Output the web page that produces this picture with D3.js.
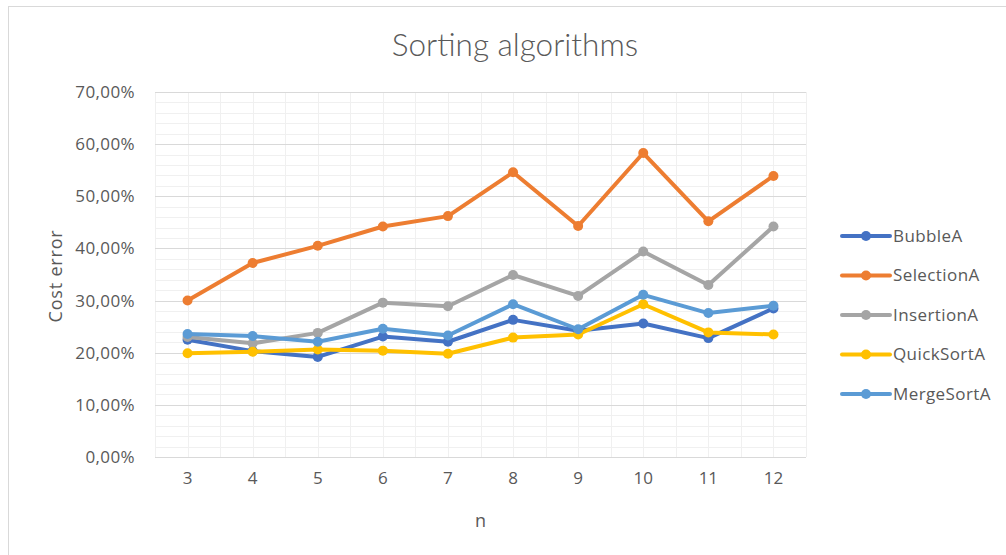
<!DOCTYPE html>
<html>
<head>
<meta charset="utf-8">
<script src="https://cdn.jsdelivr.net/npm/d3@7"></script>
<style>
html,body{margin:0;padding:0;background:#fff;}
svg{display:block;}
text{font-family:"Open Sans",sans-serif;fill:#595959;}
</style>
</head>
<body>
<svg id="chart" width="1006" height="555"></svg>
<script>
const categories = [3, 4, 5, 6, 7, 8, 9, 10, 11, 12];
const yTicks = [0, 10, 20, 30, 40, 50, 60, 70];
const seriesNames = ["BubbleA", "SelectionA", "InsertionA", "QuickSortA", "MergeSortA"];
const bubbleA    = [22.5, 20.3, 19.2, 23.1, 22.1, 26.3, 24.2, 25.6, 22.8, 28.5];
const selectionA = [30.0, 37.2, 40.5, 44.2, 46.2, 54.6, 44.3, 58.3, 45.2, 53.9];
const insertionA = [23.0, 21.8, 23.8, 29.6, 28.9, 34.9, 30.9, 39.4, 33.0, 44.2];
const quickSortA = [19.9, 20.2, 20.6, 20.4, 19.8, 22.9, 23.5, 29.3, 23.9, 23.5];
const mergeSortA = [23.6, 23.2, 22.1, 24.6, 23.3, 29.3, 24.5, 31.1, 27.6, 29.0];
const colors = ["#4472c4", "#ed7d31", "#a5a5a5", "#ffc000", "#5b9bd5"];

const seriesValues = [bubbleA, selectionA, insertionA, quickSortA, mergeSortA];
const series = seriesNames.map((name, i) => ({name, color: colors[i], values: seriesValues[i]}));

const svg = d3.select("#chart");
const plot = {left: 155, right: 806, top: 92, bottom: 457};

// chart border
svg.append("rect").attr("x", 8.5).attr("y", 6.5).attr("width", 1010).attr("height", 560)
  .attr("fill", "#fff").attr("stroke", "#d9d9d9").attr("stroke-width", 1);

const x = d3.scaleBand().domain(categories).range([plot.left, plot.right]).paddingInner(0).paddingOuter(0);
const y = d3.scaleLinear().domain([0, 70]).range([plot.bottom, plot.top]);

// minor horizontal grid
const minor = d3.range(0, 70.001, 2).filter(v => v % 10 !== 0);
svg.append("g").selectAll("line").data(minor).join("line")
  .attr("x1", plot.left).attr("x2", plot.right)
  .attr("y1", d => Math.round(y(d)) + 0.5).attr("y2", d => Math.round(y(d)) + 0.5)
  .attr("stroke", "#f0f0f0").attr("stroke-width", 1);

// vertical grid (band edges and centers)
const vLines = [];
categories.forEach(c => { vLines.push(x(c)); vLines.push(x(c) + x.bandwidth() / 2); });
vLines.push(plot.right);
svg.append("g").selectAll("line").data(vLines).join("line")
  .attr("x1", d => Math.round(d) + 0.5).attr("x2", d => Math.round(d) + 0.5)
  .attr("y1", plot.top).attr("y2", plot.bottom)
  .attr("stroke", "#f0f0f0").attr("stroke-width", 1);

// major horizontal grid
svg.append("g").selectAll("line").data(yTicks).join("line")
  .attr("x1", plot.left).attr("x2", plot.right)
  .attr("y1", d => Math.round(y(d)) + 0.5).attr("y2", d => Math.round(y(d)) + 0.5)
  .attr("stroke", "#d9d9d9").attr("stroke-width", 1);

// y axis labels
const yAxis = d3.axisLeft(y).tickValues(yTicks).tickSize(0).tickPadding(0)
  .tickFormat(d => d.toFixed(2).replace(".", ",") + "%");
const gy = svg.append("g").attr("transform", `translate(${plot.left - 20},0)`).call(yAxis);
gy.select(".domain").remove();
gy.selectAll("text").style("font-size", "17px").style("letter-spacing", "0.4px")
  .style("font-family", "Open Sans, sans-serif").attr("fill", "#595959");

// x axis labels
const xAxis = d3.axisBottom(x).tickSize(0).tickPadding(0);
const gx = svg.append("g").attr("transform", `translate(0,${plot.bottom + 15})`).call(xAxis);
gx.select(".domain").remove();
gx.selectAll("text").style("font-size", "17px").style("font-family", "Open Sans, sans-serif").attr("fill", "#595959");

// lines
const line = d3.line().x((d, i) => x(categories[i]) + x.bandwidth() / 2).y(d => y(d));
series.forEach(s => {
  const g = svg.append("g");
  g.append("path").attr("d", line(s.values)).attr("fill", "none")
    .attr("stroke", s.color).attr("stroke-width", 4).attr("stroke-linejoin", "round").attr("stroke-linecap", "round");
  g.selectAll("circle").data(s.values).join("circle")
    .attr("cx", (d, i) => x(categories[i]) + x.bandwidth() / 2).attr("cy", d => y(d))
    .attr("r", 5).attr("fill", s.color);
});

// title
svg.append("text").attr("x", 515).attr("y", 56).attr("text-anchor", "middle")
  .style("font-family", "Lato, sans-serif").style("font-weight", 300).style("font-size", "31.5px")
  .attr("fill", "#404040")
  .text("Sorting algorithms");

// axis titles
svg.append("text").attr("x", (plot.left + plot.right) / 2).attr("y", 527).attr("text-anchor", "middle")
  .style("font-size", "18px").text("n");
svg.append("text").attr("transform", "translate(62,276) rotate(-90)").attr("text-anchor", "middle")
  .style("font-size", "18px").style("letter-spacing", "0.8px").text("Cost error");

// legend
const legend = svg.append("g");
series.forEach((s, i) => {
  const ly = 236 + i * 39.5;
  const g = legend.append("g").attr("transform", `translate(842,${ly})`);
  g.append("line").attr("x1", 0).attr("x2", 48).attr("y1", 0).attr("y2", 0)
    .attr("stroke", s.color).attr("stroke-width", 4).attr("stroke-linecap", "round");
  g.append("circle").attr("cx", 24).attr("cy", 0).attr("r", 5).attr("fill", s.color);
  g.append("text").attr("x", 51).attr("y", 0).attr("dy", "0.35em")
    .style("font-size", "17px").style("letter-spacing", "0.4px").text(s.name);
});
</script>
</body>
</html>
